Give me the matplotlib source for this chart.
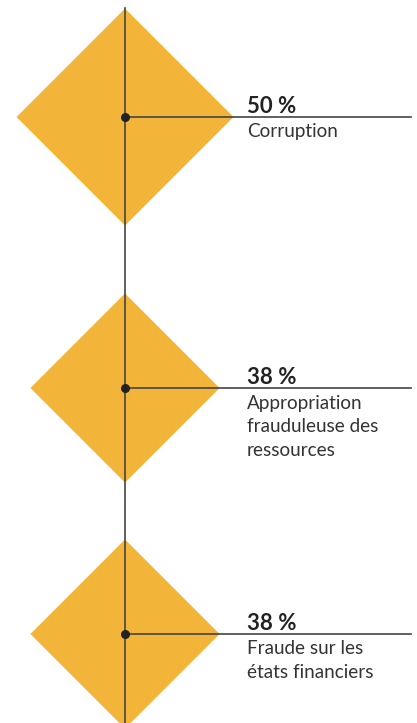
import matplotlib.pyplot as plt
from matplotlib.patches import Polygon
import numpy as np

# 各类欺诈占比
values = [50, 38, 38]
pct_labels = ['50 %', '38 %', '38 %']
names = ['Corruption', 'Appropriation\nfrauduleuse des\nressources', 'Fraude sur les\nétats financiers']

W, H = 417, 723
fig = plt.figure(figsize=(W / 100, H / 100), dpi=100)
ax = fig.add_axes([0, 0, 1, 1])
ax.set_xlim(0, W)
ax.set_ylim(H, 0)
ax.axis('off')

cx = 125
centers = [117, 388, 634]
r_max = 108.5  # 面积与数值成正比
gold = '#F2B53A'
line_c = '#444444'

# 中轴线
ax.plot([cx, cx], [8, H], color=line_c, lw=1.2, zorder=2)

for v, cy, p, n in zip(values, centers, pct_labels, names):
    r = r_max * np.sqrt(v / max(values))
    ax.add_patch(Polygon([[cx, cy - r], [cx + r, cy], [cx, cy + r], [cx - r, cy]],
                         closed=True, color=gold, lw=0, zorder=1))
    ax.plot([cx, 411], [cy, cy], color=line_c, lw=1.2, zorder=2)
    ax.plot(cx, cy, 'o', color='#222222', ms=5.5, zorder=3)
    ax.text(247, cy - 4, p, fontsize=16, fontweight='bold', color='#222222',
            family=['Lato', 'DejaVu Sans'], ha='left', va='baseline')
    ax.text(247, cy + 6.5, n, fontsize=13.6, color='#333333', linespacing=1.5,
            family=['Lato', 'DejaVu Sans'], ha='left', va='top')

fig.savefig('out.png', dpi=100)
